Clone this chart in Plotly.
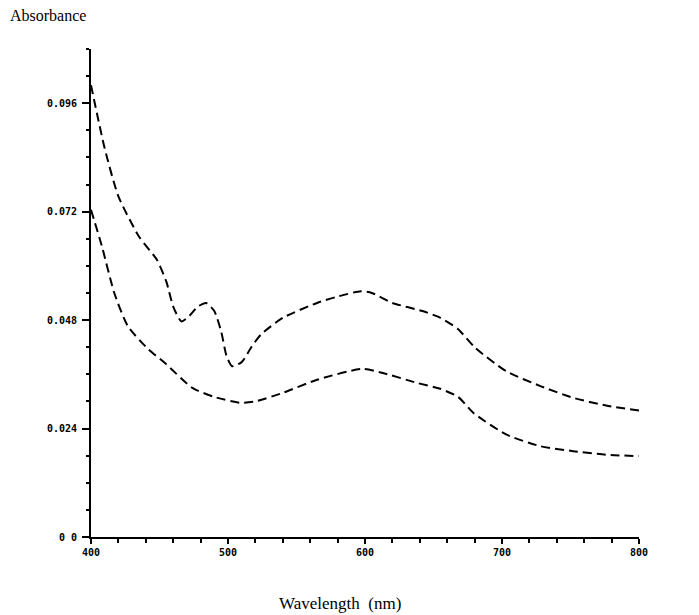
import plotly.graph_objects as go

# Upper curve
wl_upper = [400, 410, 420, 435, 448, 455, 460, 466, 472, 478, 484, 490, 495, 499, 503, 510,
            517, 524, 540, 565, 580, 597, 605, 620, 642, 655, 668, 680, 703, 728, 752, 776, 800]
abs_upper = [0.100, 0.086, 0.0754, 0.0665, 0.0614, 0.0565, 0.051, 0.0477, 0.049, 0.051, 0.0518,
             0.050, 0.0455, 0.040, 0.0378, 0.0387, 0.042, 0.0448, 0.0485, 0.0518, 0.0532, 0.0544,
             0.054, 0.0518, 0.050, 0.0485, 0.046, 0.042, 0.0367, 0.0334, 0.0308, 0.0291, 0.028]

# Lower curve
wl_lower = [400, 408, 417, 427, 442, 454, 474, 490, 509, 520, 540, 565, 598, 613, 638, 655,
            668, 679, 703, 728, 752, 776, 800]
abs_lower = [0.0724, 0.0643, 0.054, 0.0466, 0.0415, 0.0385, 0.033, 0.031, 0.0297, 0.0300, 0.0319,
             0.0348, 0.0372, 0.0363, 0.0341, 0.0328, 0.031, 0.0275, 0.0227, 0.0201, 0.019, 0.0182, 0.0179]

x_ticks = [400, 500, 600, 700, 800]
x_ticktext = ["400", "500", "600", "700", "800"]
y_ticks = [0, 0.024, 0.048, 0.072, 0.096]
y_ticktext = ["0 0", "0.024", "0.048", "0.072", "0.096"]

line_style = dict(color="black", width=2, dash="9px,5px", shape="spline", smoothing=0.6)

fig = go.Figure()
fig.add_trace(go.Scatter(x=wl_upper, y=abs_upper, mode="lines", line=line_style, showlegend=False))
fig.add_trace(go.Scatter(x=wl_lower, y=abs_lower, mode="lines", line=line_style, showlegend=False))

tick_font = dict(family="DejaVu Sans Mono", size=10, color="black", weight="bold")

fig.update_xaxes(
    range=[400, 800], tickvals=x_ticks, ticktext=x_ticktext,
    showline=True, linecolor="black", linewidth=2, showgrid=False, zeroline=False,
    ticks="outside", ticklen=5, tickwidth=2, tickcolor="black", tickfont=tick_font,
    minor=dict(dtick=20, tick0=400, ticks="outside", ticklen=4, tickwidth=2, tickcolor="black", showgrid=False),
)
fig.update_yaxes(
    range=[0, 0.108], tickvals=y_ticks, ticktext=y_ticktext,
    showline=True, linecolor="black", linewidth=2, showgrid=False, zeroline=False,
    ticks="outside", ticklen=7, tickwidth=2, tickcolor="black", tickfont=tick_font,
    ticklabelstandoff=3,
    minor=dict(dtick=0.006, tick0=0, ticks="outside", ticklen=3, tickwidth=2, tickcolor="black", showgrid=False),
)

fig.add_annotation(text="Absorbance", xref="paper", yref="paper", x=-0.1515, y=1.0696,
                   xanchor="left", yanchor="middle", showarrow=False,
                   font=dict(family="Liberation Serif", size=16, color="black"))
fig.add_annotation(text="Wavelength  (nm)", xref="paper", yref="paper", x=0.4544, y=-0.136,
                   xanchor="center", yanchor="middle", showarrow=False,
                   font=dict(family="Liberation Serif", size=17, color="black"))

fig.update_layout(
    width=691, height=607,
    margin=dict(l=83, r=60, t=41, b=77.5),
    plot_bgcolor="white", paper_bgcolor="white",
)

fig.write_html("out.html")
